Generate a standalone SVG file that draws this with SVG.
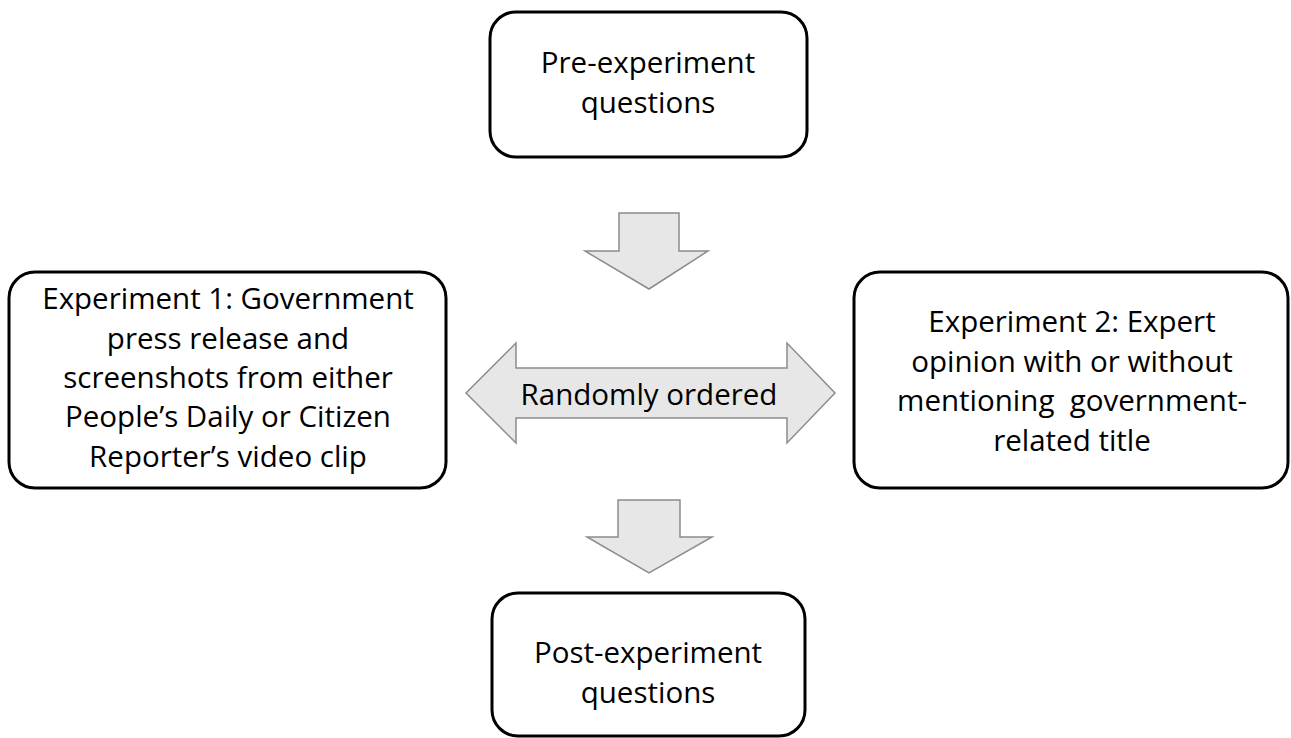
<svg xmlns="http://www.w3.org/2000/svg" width="1291" height="738" viewBox="0 0 1291 738">
<style>
.box{fill:#fff;stroke:#000;stroke-width:3}
.arr{fill:#e7e7e7;stroke:#8c8c8c;stroke-width:1.5;stroke-linejoin:miter}
text{font-family:"Open Sans","Liberation Sans",sans-serif;font-size:29.5px;fill:#000;text-anchor:middle}
</style>
<rect width="1291" height="738" fill="#fff"/>
<g id="connectors">
<path class="arr" d="M619,213 H679 V251 H708 L649,289 L585,251 H619 Z"/>
<path class="arr" d="M618,500 H680 V537 H712 L649,573 L587,537 H618 Z"/>
<g id="randomly-ordered">
<path class="arr" d="M466,393 L516,343 V368 H787 V343 L835,393 L787,443 V418 H516 V443 Z"/>
<text x="649" y="405">Randomly ordered</text>
</g>
</g>
<g id="pre">
<rect class="box" x="490" y="12" width="317" height="145" rx="26"/>
<text><tspan x="648" y="73">Pre-experiment</tspan><tspan x="648" y="113">questions</tspan></text>
</g>
<g id="exp1">
<rect class="box" x="9" y="272" width="437" height="216" rx="26"/>
<text><tspan x="228" y="309">Experiment 1: Government</tspan><tspan x="228" y="349">press release and</tspan><tspan x="228" y="388">screenshots from either</tspan><tspan x="228" y="427">People’s Daily or Citizen</tspan><tspan x="228" y="467">Reporter’s video clip</tspan></text>
</g>
<g id="exp2">
<rect class="box" x="854" y="272" width="434" height="216" rx="26"/>
<text xml:space="preserve"><tspan x="1072" y="332">Experiment 2: Expert</tspan><tspan x="1072" y="372">opinion with or without</tspan><tspan x="1072" y="411">mentioning  government-</tspan><tspan x="1072" y="451">related title</tspan></text>
</g>
<g id="post">
<rect class="box" x="492" y="593" width="313" height="143" rx="26"/>
<text><tspan x="648" y="663">Post-experiment</tspan><tspan x="648" y="703">questions</tspan></text>
</g>
</svg>
